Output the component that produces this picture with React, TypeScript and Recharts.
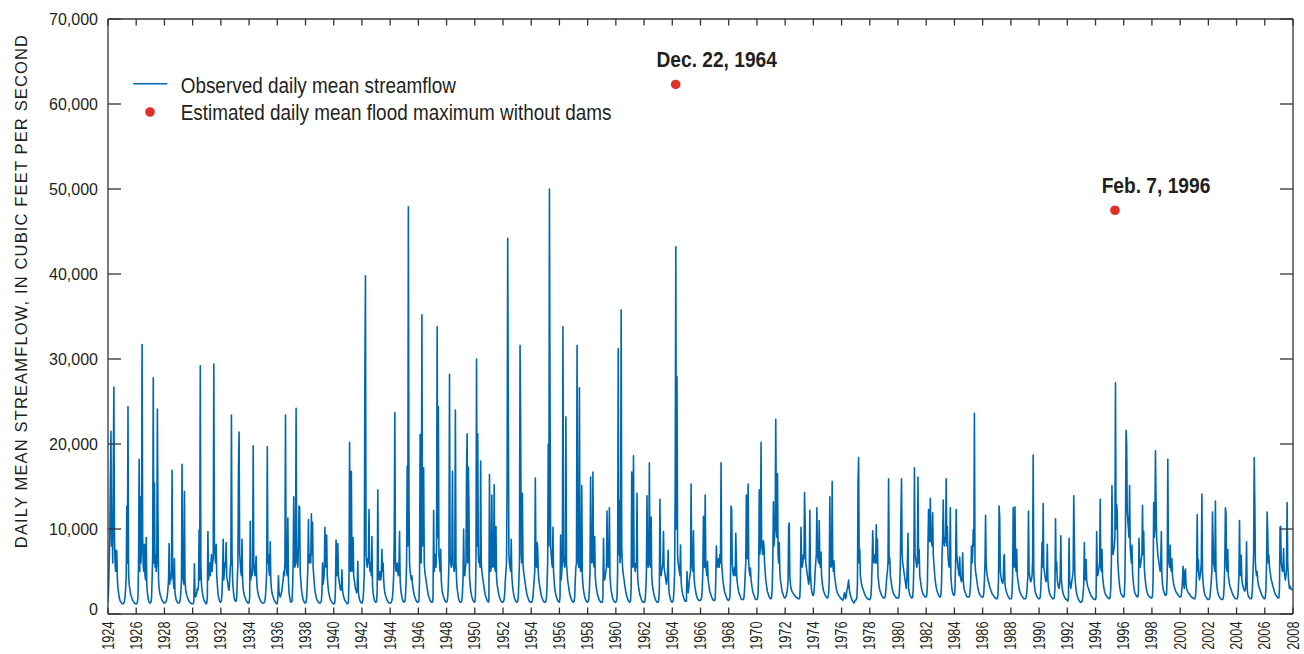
import React from "react";
import {
  ComposedChart, Line, Scatter, XAxis, YAxis, Legend,
} from "recharts";

// Caudal medio diario observado, 1924–2008. Cada fila = un año, 24 lecturas (quincenas),
// en cientos de pies cúbicos por segundo, leídas a ojo del gráfico original.
const FIRST_YEAR = 1924;
const FLOW_BY_YEAR: number[][] = [
  [14, 30, 60, 90, 154, 215, 80, 120, 60, 170, 267, 90, 60, 50, 75, 74, 40, 30, 25, 20, 17, 15, 14, 13], // 1924
  [12, 12, 12, 13, 15, 20, 30, 45, 127, 60, 244, 50, 35, 30, 25, 22, 20, 18, 16, 15, 14, 13, 12, 12],
  [12, 12, 14, 20, 60, 182, 50, 138, 60, 80, 317, 90, 55, 50, 82, 45, 40, 90, 35, 25, 20, 16, 14, 13],
  [13, 14, 18, 40, 70, 278, 60, 154, 55, 70, 50, 60, 241, 119, 40, 30, 25, 22, 20, 18, 16, 15, 14, 13],
  [13, 13, 14, 15, 18, 22, 30, 40, 83, 35, 45, 40, 50, 169, 45, 40, 30, 65, 25, 20, 17, 15, 14, 13],
  [13, 13, 14, 18, 25, 40, 176, 50, 40, 35, 144, 40, 30, 25, 22, 20, 18, 16, 15, 14, 13, 13, 12, 12],
  [12, 12, 15, 59, 25, 20, 22, 25, 30, 28, 35, 99, 40, 292, 60, 35, 28, 24, 20, 17, 15, 14, 13, 12], // 1930
  [13, 20, 97, 40, 50, 60, 45, 55, 70, 50, 60, 65, 294, 80, 70, 60, 82, 45, 35, 25, 20, 17, 15, 14],
  [14, 16, 25, 50, 88, 40, 50, 60, 55, 84, 45, 40, 35, 30, 28, 40, 55, 60, 234, 70, 40, 30, 22, 18],
  [16, 15, 15, 20, 40, 60, 172, 214, 70, 60, 50, 45, 88, 40, 30, 25, 22, 20, 18, 16, 15, 14, 13, 13],
  [13, 20, 109, 40, 50, 45, 55, 198, 60, 50, 45, 55, 68, 40, 30, 25, 22, 20, 18, 16, 15, 14, 13, 13],
  [13, 13, 14, 16, 22, 35, 50, 197, 60, 70, 50, 45, 85, 40, 30, 25, 22, 20, 18, 16, 15, 14, 13, 12],
  [12, 20, 45, 25, 22, 20, 22, 25, 28, 35, 40, 50, 45, 60, 234, 60, 50, 45, 113, 40, 25, 20, 16, 14],
  [14, 15, 30, 60, 138, 70, 55, 60, 242, 70, 60, 55, 80, 127, 126, 50, 40, 30, 25, 20, 17, 15, 14, 13],
  [13, 14, 20, 35, 55, 111, 60, 70, 65, 60, 118, 70, 108, 55, 45, 35, 28, 24, 20, 18, 16, 15, 14, 13],
  [13, 13, 14, 16, 25, 60, 35, 40, 50, 102, 60, 55, 93, 45, 35, 28, 24, 20, 18, 16, 15, 14, 13, 12],
  [12, 12, 14, 30, 87, 50, 45, 83, 45, 40, 35, 30, 28, 30, 52, 28, 24, 20, 18, 16, 15, 14, 13, 12], // 1940
  [12, 14, 40, 202, 60, 50, 168, 55, 50, 90, 45, 40, 35, 30, 28, 25, 30, 62, 25, 20, 17, 15, 14, 13],
  [13, 14, 18, 30, 50, 278, 398, 70, 60, 55, 65, 60, 123, 55, 50, 60, 45, 91, 35, 25, 20, 17, 15, 14],
  [14, 15, 30, 146, 50, 40, 45, 50, 40, 45, 76, 50, 60, 40, 30, 25, 22, 20, 18, 16, 15, 14, 13, 13],
  [13, 13, 14, 16, 20, 30, 45, 94, 237, 60, 50, 55, 60, 50, 45, 55, 97, 40, 30, 24, 20, 17, 15, 14],
  [14, 15, 20, 35, 60, 174, 80, 479, 138, 60, 50, 45, 40, 45, 35, 30, 26, 22, 20, 18, 16, 15, 14, 14],
  [14, 16, 40, 211, 70, 60, 352, 80, 148, 172, 60, 50, 45, 40, 35, 30, 26, 22, 20, 18, 16, 15, 14, 14],
  [14, 20, 122, 50, 60, 70, 55, 80, 338, 90, 244, 70, 60, 50, 76, 40, 30, 25, 22, 20, 18, 16, 15, 14],
  [14, 15, 20, 35, 60, 282, 70, 60, 55, 65, 168, 60, 55, 50, 60, 240, 60, 40, 30, 25, 20, 17, 15, 14],
  [14, 14, 16, 25, 40, 100, 50, 45, 55, 60, 169, 212, 60, 173, 132, 45, 35, 28, 24, 20, 18, 16, 15, 14],
  [14, 20, 60, 300, 80, 212, 70, 60, 65, 55, 180, 60, 50, 45, 40, 35, 30, 26, 22, 20, 18, 16, 15, 14], // 1950
  [15, 164, 60, 50, 55, 140, 60, 55, 60, 152, 55, 50, 103, 45, 35, 30, 26, 22, 20, 18, 16, 15, 14, 14],
  [14, 15, 18, 25, 40, 50, 60, 160, 442, 242, 70, 60, 55, 50, 88, 45, 35, 28, 24, 20, 18, 16, 15, 14],
  [14, 15, 20, 40, 60, 316, 231, 70, 60, 142, 60, 50, 45, 40, 35, 30, 26, 22, 20, 18, 16, 15, 14, 14],
  [14, 14, 16, 20, 30, 40, 50, 160, 60, 55, 84, 78, 50, 40, 35, 30, 26, 22, 20, 18, 16, 15, 14, 14],
  [14, 15, 20, 35, 60, 200, 80, 500, 249, 80, 70, 60, 55, 102, 50, 40, 30, 26, 22, 20, 18, 16, 15, 14],
  [14, 20, 93, 40, 50, 60, 338, 70, 60, 55, 60, 232, 60, 50, 40, 35, 30, 26, 22, 20, 18, 16, 15, 14],
  [14, 15, 20, 40, 55, 60, 316, 70, 60, 55, 266, 60, 50, 55, 151, 45, 35, 28, 24, 20, 18, 16, 15, 14],
  [14, 15, 18, 30, 50, 161, 70, 60, 65, 167, 60, 55, 91, 45, 35, 30, 26, 22, 20, 18, 16, 15, 14, 14],
  [14, 14, 20, 89, 45, 40, 45, 50, 55, 121, 60, 55, 60, 125, 45, 35, 28, 24, 20, 18, 16, 15, 14, 14],
  [14, 15, 20, 50, 312, 70, 134, 60, 70, 358, 80, 60, 50, 45, 40, 35, 30, 26, 22, 20, 18, 16, 15, 14], // 1960
  [14, 16, 30, 167, 60, 55, 186, 60, 55, 50, 60, 55, 142, 45, 35, 30, 26, 22, 20, 18, 16, 15, 14, 14],
  [14, 14, 18, 30, 50, 139, 60, 55, 60, 178, 60, 55, 114, 45, 35, 30, 26, 22, 20, 18, 16, 15, 14, 14],
  [14, 16, 30, 135, 50, 45, 50, 55, 60, 97, 55, 50, 45, 40, 35, 40, 50, 75, 30, 24, 20, 17, 15, 14],
  [14, 15, 18, 30, 50, 160, 432, 100, 279, 70, 60, 55, 50, 45, 81, 40, 30, 26, 22, 20, 18, 16, 15, 15],
  [15, 50, 30, 25, 30, 40, 45, 50, 153, 60, 55, 50, 98, 45, 35, 30, 26, 22, 20, 18, 17, 16, 16, 16],
  [16, 17, 20, 30, 50, 115, 60, 55, 140, 60, 50, 45, 62, 40, 35, 30, 26, 24, 22, 20, 18, 17, 16, 16],
  [16, 18, 40, 80, 60, 55, 65, 60, 55, 70, 60, 178, 60, 50, 40, 35, 30, 26, 24, 22, 20, 18, 17, 16],
  [16, 17, 20, 40, 127, 123, 60, 50, 45, 50, 55, 45, 95, 63, 40, 35, 30, 26, 24, 22, 20, 18, 17, 17],
  [17, 17, 20, 30, 45, 60, 140, 70, 65, 153, 60, 50, 45, 54, 40, 35, 30, 26, 24, 22, 20, 18, 17, 17],
  [17, 18, 25, 50, 146, 70, 80, 202, 85, 75, 70, 86, 80, 60, 50, 40, 35, 30, 26, 24, 22, 20, 19, 18], // 1970
  [18, 20, 30, 60, 132, 80, 90, 100, 229, 120, 90, 165, 70, 60, 84, 50, 40, 35, 30, 26, 24, 22, 20, 19],
  [19, 20, 22, 25, 30, 40, 103, 107, 45, 35, 30, 28, 26, 25, 24, 23, 22, 21, 20, 20, 19, 19, 18, 18],
  [18, 20, 40, 102, 60, 55, 60, 70, 65, 143, 110, 60, 55, 50, 45, 40, 35, 40, 122, 50, 35, 28, 24, 22],
  [22, 25, 35, 50, 60, 70, 125, 70, 65, 60, 110, 60, 55, 73, 45, 38, 32, 28, 26, 24, 22, 21, 20, 19],
  [19, 20, 25, 40, 138, 60, 55, 60, 156, 60, 50, 63, 45, 40, 35, 30, 27, 25, 23, 22, 21, 20, 19, 18],
  [18, 17, 16, 18, 22, 25, 20, 18, 22, 28, 30, 35, 40, 30, 25, 22, 20, 18, 16, 15, 14, 13, 14, 16],
  [16, 17, 20, 35, 156, 184, 60, 76, 45, 40, 35, 32, 30, 28, 26, 24, 22, 21, 20, 19, 18, 18, 17, 17],
  [17, 18, 22, 35, 60, 98, 70, 60, 65, 70, 60, 105, 60, 88, 45, 38, 32, 28, 26, 24, 22, 21, 20, 19],
  [19, 19, 20, 25, 35, 45, 50, 60, 159, 60, 66, 45, 40, 35, 30, 27, 25, 23, 22, 21, 20, 19, 19, 19],
  [19, 19, 22, 35, 60, 117, 159, 70, 60, 55, 50, 45, 40, 35, 30, 40, 60, 95, 30, 26, 23, 21, 20, 19], // 1980
  [19, 20, 30, 60, 172, 70, 65, 60, 55, 60, 161, 60, 76, 45, 40, 35, 30, 27, 25, 23, 22, 21, 20, 20],
  [20, 22, 35, 80, 123, 90, 85, 136, 90, 85, 80, 119, 70, 60, 50, 42, 36, 32, 28, 26, 24, 22, 21, 20],
  [20, 22, 35, 70, 90, 134, 85, 80, 90, 85, 159, 80, 103, 70, 60, 55, 60, 125, 45, 35, 28, 25, 23, 22],
  [22, 30, 60, 123, 70, 63, 55, 50, 45, 67, 45, 40, 38, 45, 72, 40, 32, 28, 26, 24, 22, 21, 20, 20],
  [20, 20, 22, 30, 45, 80, 60, 70, 99, 80, 236, 60, 50, 45, 40, 35, 30, 27, 25, 23, 22, 21, 20, 20],
  [20, 20, 25, 40, 60, 116, 60, 49, 45, 40, 38, 35, 32, 30, 28, 26, 24, 23, 22, 21, 20, 19, 19, 18],
  [18, 18, 22, 40, 127, 114, 50, 45, 40, 38, 36, 40, 67, 70, 35, 30, 27, 25, 23, 21, 20, 19, 18, 18],
  [18, 18, 25, 45, 125, 60, 55, 126, 60, 50, 76, 45, 40, 35, 30, 27, 25, 23, 22, 21, 20, 19, 18, 18],
  [18, 18, 20, 25, 35, 45, 121, 50, 45, 40, 38, 40, 45, 63, 187, 50, 35, 28, 25, 23, 21, 20, 19, 18],
  [18, 18, 20, 30, 50, 84, 55, 130, 55, 50, 45, 40, 38, 45, 82, 40, 32, 27, 24, 22, 21, 20, 19, 18], // 1990
  [18, 18, 20, 30, 112, 50, 61, 40, 35, 32, 30, 35, 45, 92, 40, 32, 27, 24, 22, 20, 19, 18, 17, 17],
  [16, 15, 20, 89, 40, 35, 30, 35, 40, 45, 50, 139, 88, 45, 35, 28, 24, 21, 19, 17, 16, 15, 14, 14],
  [14, 15, 18, 25, 35, 84, 45, 40, 64, 40, 35, 32, 30, 28, 26, 24, 22, 21, 20, 19, 18, 18, 17, 17],
  [17, 20, 97, 50, 45, 50, 55, 60, 135, 55, 50, 76, 45, 38, 32, 28, 25, 23, 22, 21, 20, 19, 19, 18],
  [18, 20, 30, 60, 151, 80, 70, 75, 80, 90, 272, 100, 129, 120, 60, 50, 40, 33, 28, 25, 23, 22, 21, 20],
  [20, 22, 40, 100, 216, 202, 120, 110, 100, 90, 151, 80, 70, 60, 81, 50, 40, 33, 28, 25, 23, 22, 21, 20],
  [20, 25, 89, 60, 55, 60, 65, 70, 128, 70, 97, 55, 45, 38, 32, 28, 25, 23, 22, 21, 20, 20, 19, 19],
  [19, 22, 40, 131, 90, 100, 192, 135, 90, 80, 70, 65, 60, 55, 50, 60, 97, 45, 35, 30, 27, 25, 23, 22],
  [22, 25, 45, 182, 70, 60, 55, 81, 55, 50, 65, 45, 40, 35, 32, 30, 28, 26, 25, 24, 23, 22, 21, 20],
  [20, 20, 22, 30, 40, 56, 35, 30, 50, 53, 35, 30, 28, 26, 25, 24, 23, 22, 21, 20, 20, 19, 19, 18], // 2000
  [18, 18, 20, 30, 50, 117, 50, 64, 45, 40, 45, 50, 60, 141, 50, 38, 30, 26, 23, 21, 20, 19, 18, 17],
  [17, 17, 18, 22, 30, 40, 50, 120, 88, 60, 55, 50, 133, 50, 38, 30, 26, 23, 21, 20, 19, 18, 17, 17],
  [17, 18, 22, 35, 60, 125, 119, 55, 50, 76, 45, 40, 35, 32, 30, 28, 26, 24, 22, 21, 20, 19, 18, 18],
  [18, 18, 20, 30, 45, 110, 50, 45, 69, 40, 35, 32, 30, 28, 27, 30, 45, 85, 30, 24, 21, 20, 19, 18],
  [18, 18, 20, 30, 50, 70, 184, 134, 60, 50, 45, 50, 40, 35, 32, 30, 28, 26, 24, 22, 21, 20, 19, 18],
  [18, 20, 30, 60, 120, 97, 60, 69, 55, 50, 45, 40, 38, 35, 32, 30, 27, 25, 23, 22, 21, 20, 19, 19],
  [19, 30, 102, 103, 60, 55, 50, 55, 77, 50, 45, 40, 45, 55, 131, 60, 45, 35, 30, 33, 30, 29, 29, 29], // 2007
];
const LAST_FLOW = 29; // 2008.0

// Máximos estimados sin presas
const FLOOD_YEARS = [1964.24, 1995.38];
const FLOOD_FLOWS = [62300, 47500];
const FLOOD_LABELS = ["Dec. 22, 1964", "Feb. 7, 1996"];

const YEAR_TICKS = [
  1924, 1926, 1928, 1930, 1932, 1934, 1936, 1938, 1940, 1942, 1944, 1946, 1948, 1950,
  1952, 1954, 1956, 1958, 1960, 1962, 1964, 1966, 1968, 1970, 1972, 1974, 1976, 1978,
  1980, 1982, 1984, 1986, 1988, 1990, 1992, 1994, 1996, 1998, 2000, 2002, 2004, 2006, 2008,
];
const FLOW_TICKS = [0, 10000, 20000, 30000, 40000, 50000, 60000, 70000];

const BLUE = "#0067b1";
const RED = "#e0302a";
const INK = "#231f20";
const AXIS = "#333333";
const SANS = "'Liberation Sans', Arial, sans-serif";
// no hay fuente estrecha instalada: se comprime la Liberation Sans en horizontal
const CONDENSE = 0.86;

const P_LEFT = 108;
const P_RIGHT = 1293;
const P_TOP = 19;
const P_BOTTOM = 614;

const rows = FLOW_BY_YEAR.flatMap((vals, i) =>
  vals.map((v, k) => ({ year: FIRST_YEAR + i + k / vals.length, flow: v * 100 })),
);
rows.push({ year: FIRST_YEAR + FLOW_BY_YEAR.length, flow: LAST_FLOW * 100 });

const floods = FLOOD_YEARS.map((year, i) => ({ year, flow: FLOOD_FLOWS[i], label: FLOOD_LABELS[i] }));

const fmt = (v: number) => v.toLocaleString("en-US");

function BottomTick({ x, payload }: any) {
  const ty = 621.5;
  return (
    <g>
      <line x1={x} x2={x} y1={P_BOTTOM} y2={P_BOTTOM - 6.5} stroke={AXIS} strokeWidth={1.3} />
      <text
        x={x} y={ty} transform={`rotate(-90 ${x} ${ty})`}
        textAnchor="end" dominantBaseline="central"
        fontFamily={SANS} fontSize={16} fill={INK}
        textLength={28.3} lengthAdjust="spacingAndGlyphs"
      >
        {payload.value}
      </text>
    </g>
  );
}

function TopTick({ x }: any) {
  return <line x1={x} x2={x} y1={P_TOP} y2={P_TOP + 6.5} stroke={AXIS} strokeWidth={1.3} />;
}

function LeftTick({ y, payload }: any) {
  const ly = payload.value === 0 ? y - 4.7 : y + 0.8;
  return (
    <g>
      <line x1={P_LEFT} x2={P_LEFT + 13} y1={y} y2={y} stroke={AXIS} strokeWidth={1.3} />
      <text x={98} y={ly} textAnchor="end" dominantBaseline="central" fontFamily={SANS} fontSize={16} fill={INK}>
        {fmt(payload.value)}
      </text>
    </g>
  );
}

function RightTick({ y }: any) {
  return <line x1={P_RIGHT} x2={P_RIGHT - 13} y1={y} y2={y} stroke={AXIS} strokeWidth={1.3} />;
}

function AxisTitle() {
  const cx = 20.8, cy = 291;
  return (
    <text
      x={cx} y={cy} transform={`rotate(-90 ${cx} ${cy})`}
      textAnchor="middle" dominantBaseline="central"
      fontFamily={SANS} fontSize={16.5} letterSpacing={1.15} fill={INK}
    >
      DAILY MEAN STREAMFLOW, IN CUBIC FEET PER SECOND
    </text>
  );
}

function FloodMark({ cx, cy, payload }: any) {
  return (
    <g>
      <circle cx={cx} cy={cy} r={4.8} fill={RED} />
      <text
        transform={`translate(${cx + 41} ${cy - 25}) scale(${CONDENSE} 1)`}
        textAnchor="middle" dominantBaseline="central"
        fontFamily={SANS} fontWeight="bold" fontSize={22.3} fill={INK}
      >
        {payload.label}
      </text>
    </g>
  );
}

function FlowLegend() {
  const t = { fontFamily: SANS, fontSize: 22, fill: INK, dominantBaseline: "central" as const };
  return (
    <svg width={560} height={60} style={{ display: "block" }}>
      <line x1={13.3} x2={47.3} y1={18.7} y2={18.7} stroke={BLUE} strokeWidth={1.6} />
      <text transform={`translate(60.7 19.5) scale(${CONDENSE} 1)`} {...t}>Observed daily mean streamflow</text>
      <circle cx={30} cy={47} r={4.8} fill={RED} />
      <text transform={`translate(60.7 47.3) scale(${CONDENSE} 1)`} {...t}>
        Estimated daily mean flood maximum without dams
      </text>
    </svg>
  );
}

export default function App() {
  const axisLine = { stroke: AXIS, strokeWidth: 1.3 };
  return (
    <div style={{ position: "absolute", left: 0, top: 0, width: 1304, height: 654, background: "#fff" }}>
      <ComposedChart width={1304} height={654} data={rows} margin={{ top: 18, right: 10, bottom: 0, left: 0 }}>
        <XAxis
          xAxisId="b" dataKey="year" type="number" domain={[1924, 2008]} ticks={YEAR_TICKS}
          interval={0} height={40} allowDataOverflow axisLine={axisLine} tickLine={false}
          tick={(p: any) => <BottomTick {...p} />}
        />
        <XAxis
          xAxisId="t" orientation="top" dataKey="year" type="number" domain={[1924, 2008]} ticks={YEAR_TICKS}
          interval={0} height={1} allowDataOverflow axisLine={axisLine} tickLine={false}
          tick={(p: any) => <TopTick {...p} />}
        />
        <YAxis
          yAxisId="l" type="number" domain={[0, 70000]} ticks={FLOW_TICKS} interval={0} width={108}
          allowDataOverflow axisLine={axisLine} tickLine={false}
          tick={(p: any) => <LeftTick {...p} />}
          label={() => <AxisTitle />}
        />
        <YAxis
          yAxisId="r" orientation="right" type="number" domain={[0, 70000]} ticks={FLOW_TICKS} interval={0}
          width={1} allowDataOverflow axisLine={axisLine} tickLine={false}
          tick={(p: any) => <RightTick {...p} />}
        />
        <Line
          xAxisId="b" yAxisId="l" dataKey="flow" type="linear" stroke={BLUE} strokeWidth={1.6}
          strokeLinejoin="round" dot={false} activeDot={false} isAnimationActive={false}
        />
        <Scatter
          xAxisId="b" yAxisId="l" data={floods} dataKey="flow" fill={RED}
          shape={(p: any) => <FloodMark {...p} />} isAnimationActive={false}
        />
        <Legend
          layout="vertical" align="center" verticalAlign="middle"
          wrapperStyle={{ position: "absolute", left: 120, top: 65, width: 560, height: 60 }}
          content={() => <FlowLegend />}
        />
      </ComposedChart>
    </div>
  );
}
